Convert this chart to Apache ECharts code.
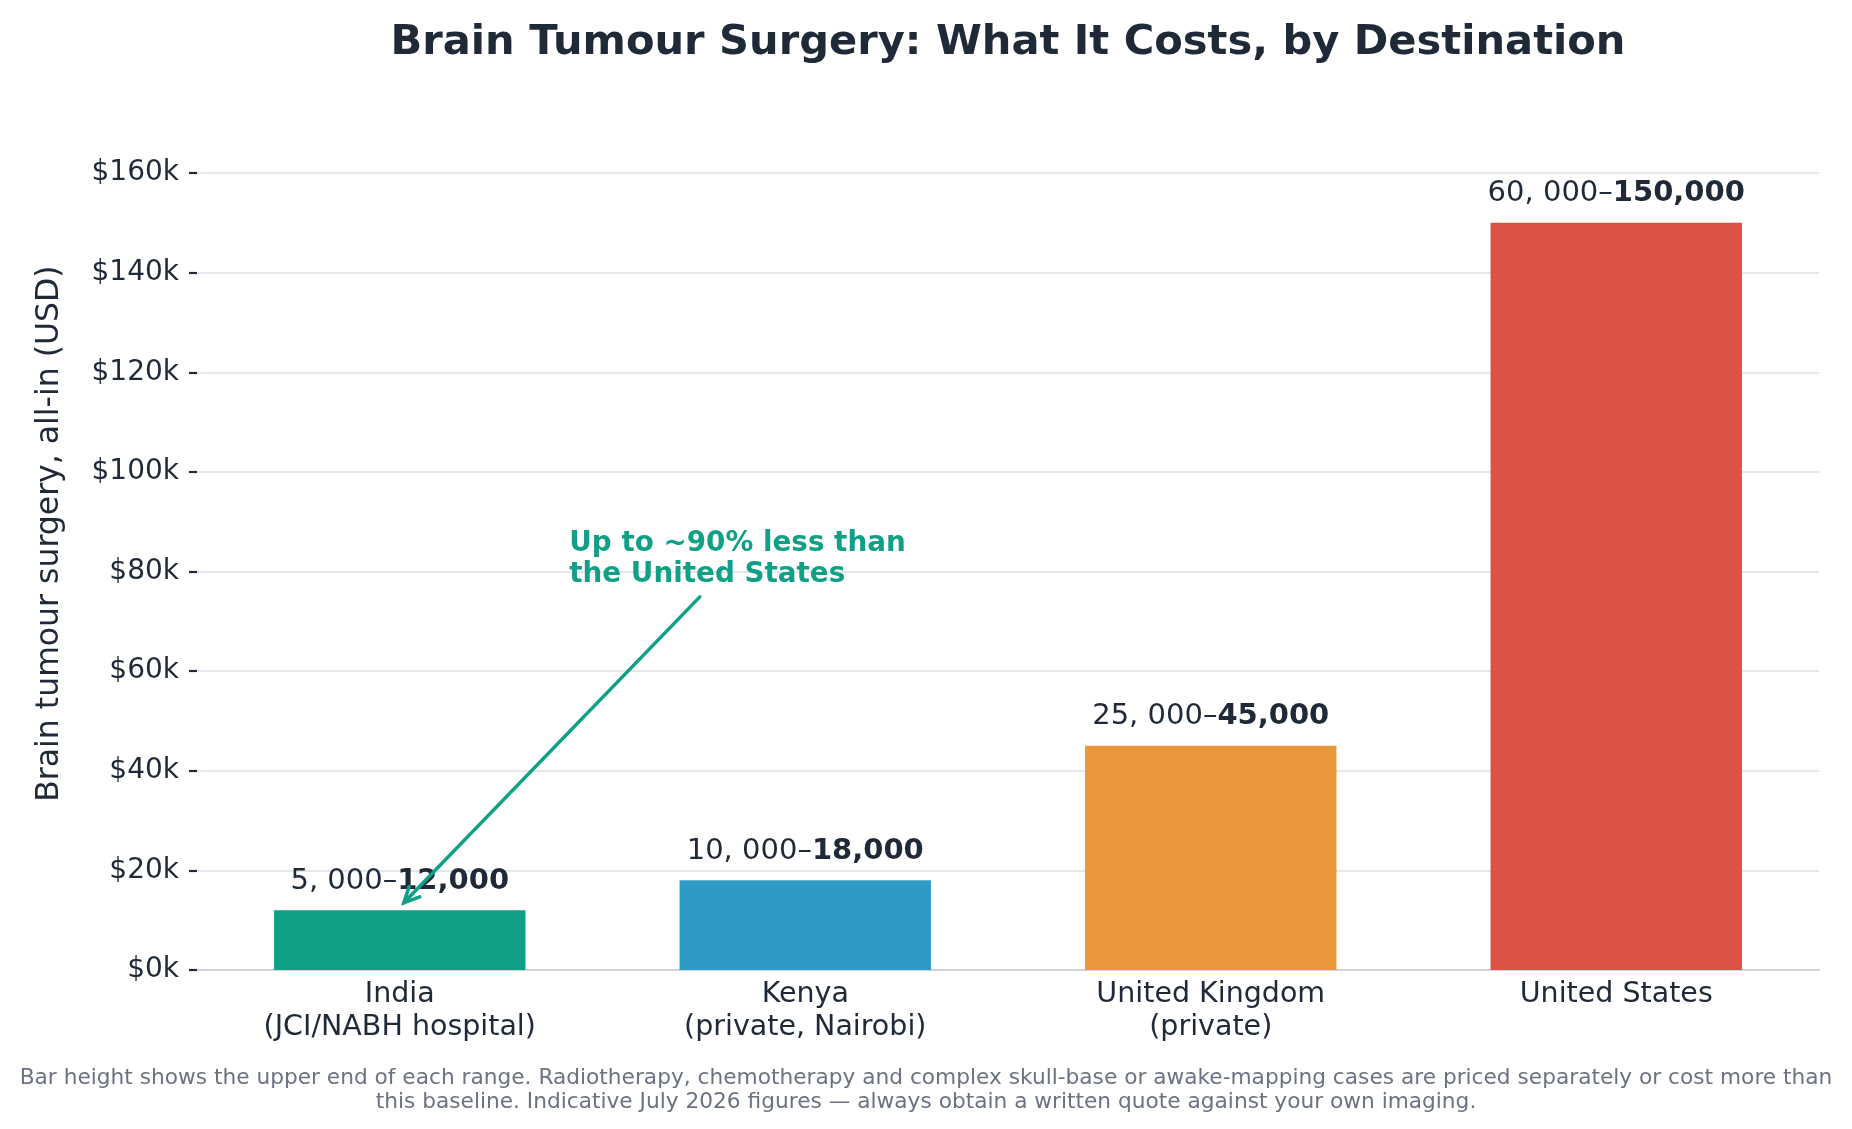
<!DOCTYPE html>
<html><head><meta charset="utf-8">
<script src="https://cdn.jsdelivr.net/npm/echarts@6/dist/echarts.min.js"></script>
<style>html,body{margin:0;padding:0;background:#fff}#c{width:1852px;height:1129px}</style>
</head><body><div id="c"></div>
<script>
// ---- data ----
const categories = ['India\n(JCI/NABH hospital)', 'Kenya\n(private, Nairobi)', 'United Kingdom\n(private)', 'United States'];
const lowCost = [5000, 10000, 25000, 60000];
const highCost = [12000, 18000, 45000, 150000];
const barColors = ['#10a085', '#2e9bc6', '#e8983b', '#dc5247'];
const yMin = 0, yMax = 160000, yStep = 20000;
const titleText = 'Brain Tumour Surgery: What It Costs, by Destination';
const yAxisTitle = 'Brain tumour surgery, all-in (USD)';
const footnoteText = 'Bar height shows the upper end of each range. Radiotherapy, chemotherapy and complex skull-base or awake-mapping cases are priced separately or cost more than\nthis baseline. Indicative July 2026 figures \u2014 always obtain a written quote against your own imaging.';
const annotationText = 'Up to ~90% less than\nthe United States';
const annotationTextAt = [0.418, 82500];      // [category position, value]
const annotationArrowFrom = [0.74, 74900];
const annotationArrowTo = [0.01, 13500];

const FONT = '"DejaVu Sans", "Noto Sans", sans-serif';
const DARK = '#1f2937';
const TEAL = '#10a085';

function sepMath(v) { return String(v).replace(/\B(?=(\d{3})+(?!\d))/g, ', '); }
function sep(v) { return String(v).replace(/\B(?=(\d{3})+(?!\d))/g, ','); }

const chart = echarts.init(document.getElementById('c'), null, {renderer: 'canvas'});

chart.setOption({
  backgroundColor: '#ffffff',
  animation: false,
  title: [{
    text: titleText,
    left: 1003, top: 17, textAlign: 'center',
    textStyle: {fontFamily: FONT, fontSize: 41.6, fontWeight: 'bold', color: DARK}
  }, {
    text: footnoteText,
    left: 921, top: 1061, textAlign: 'center',
    textStyle: {fontFamily: FONT, fontSize: 21.7, fontWeight: 'normal', color: '#6b7280', lineHeight: 24.3}
  }],
  grid: {left: 197, right: 33, top: 173, bottom: 159, containLabel: false},
  xAxis: {
    type: 'category',
    data: categories,
    axisLine: {show: true, lineStyle: {color: '#d1d5db', width: 2}},
    axisTick: {show: false},
    axisLabel: {fontFamily: FONT, fontSize: 28.5, color: DARK, lineHeight: 33, margin: 8.5, interval: 0}
  },
  yAxis: {
    type: 'value',
    min: yMin, max: yMax, interval: yStep,
    axisLine: {show: false},
    axisTick: {show: true, length: 8, lineStyle: {color: DARK, width: 2.2}},
    axisLabel: {fontFamily: FONT, fontSize: 28, color: DARK, margin: 18,
      formatter: v => '$' + (v / 1000) + 'k'},
    splitLine: {show: true, lineStyle: {color: '#e5e7eb', width: 2}}
  },
  series: [{
    type: 'bar',
    barWidth: '62%',
    data: highCost.map((v, i) => ({value: v, itemStyle: {color: barColors[i]}})),
    label: {
      show: true, position: 'top', distance: 12,
      formatter: p => '{r|' + sepMath(lowCost[p.dataIndex]) + '\u2013}{b|' + sep(highCost[p.dataIndex]) + '}',
      rich: {
        r: {fontFamily: FONT, fontSize: 29, color: DARK, lineHeight: 34},
        b: {fontFamily: FONT, fontSize: 29, color: DARK, fontWeight: 'bold', lineHeight: 34}
      }
    }
  }]
});

function px(pt) {
  const x0 = chart.convertToPixel({xAxisIndex: 0}, 0);
  const x1 = chart.convertToPixel({xAxisIndex: 0}, 1);
  const x = x0 + pt[0] * (x1 - x0);
  const y = chart.convertToPixel({yAxisIndex: 0}, pt[1]);
  return [x, y];
}

const a = px(annotationArrowFrom), b = px(annotationArrowTo), t = px(annotationTextAt);
const ang = Math.atan2(a[1] - b[1], a[0] - b[0]);
const hl = 17, ha = 0.45;
const arm1 = [b[0] + hl * Math.cos(ang + ha), b[1] + hl * Math.sin(ang + ha)];
const arm2 = [b[0] + hl * Math.cos(ang - ha), b[1] + hl * Math.sin(ang - ha)];

chart.setOption({
  graphic: [
    {type: 'text', x: 49.6, y: 533.6, rotation: Math.PI / 2,
      style: {text: yAxisTitle, fontFamily: FONT, fontSize: 31.5, fill: DARK, align: 'center', verticalAlign: 'middle'}},
    {type: 'text', x: t[0], y: t[1],
      style: {text: annotationText, fontFamily: FONT, fontSize: 27.8, fontWeight: 'bold', fill: TEAL,
        align: 'left', verticalAlign: 'middle', lineHeight: 31.4}},
    {type: 'line', shape: {x1: a[0], y1: a[1], x2: b[0], y2: b[1]},
      style: {stroke: TEAL, lineWidth: 3.5, lineCap: 'round'}, z: 10},
    {type: 'polyline', shape: {points: [arm1, b, arm2]},
      style: {stroke: TEAL, lineWidth: 3.5, lineCap: 'round', lineJoin: 'miter', fill: null}, z: 10}
  ]
});
</script>
</body></html>
